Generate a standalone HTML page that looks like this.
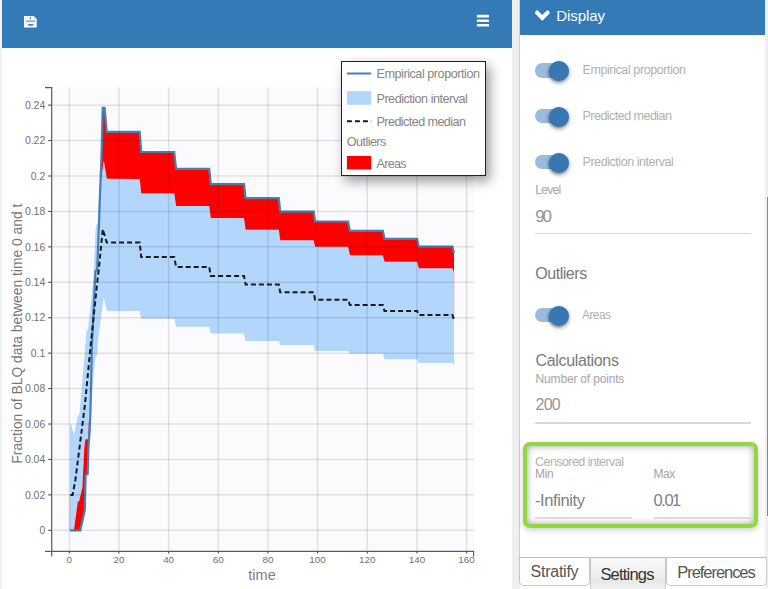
<!DOCTYPE html>
<html><head><meta charset="utf-8"><style>
html,body{margin:0;padding:0;}
body{width:768px;height:589px;overflow:hidden;background:#efefef;position:relative;font-family:"Liberation Sans",sans-serif;}
.t{position:absolute;white-space:nowrap;line-height:1;}
.lp{position:absolute;left:2px;top:0;width:510px;height:589px;background:#fff;}
.hdr{position:absolute;left:2px;top:0;width:510px;height:47.5px;background:#337ab7;}
.chart{position:absolute;left:0;top:0;}
.legend{position:absolute;left:341px;top:61px;width:145px;height:115px;box-sizing:border-box;border:1px solid #222;background:#fff;box-shadow:4px 5px 11px rgba(0,0,0,0.4);}
.rp{position:absolute;left:519px;top:0;width:246px;height:557px;background:#fff;border-left:1px solid #cfcfcf;box-sizing:border-box;}
.rhdr{position:absolute;left:520px;top:0;width:245px;height:34.8px;background:#337ab7;}
.track{position:absolute;left:534.7px;width:34px;height:14.4px;border-radius:7.2px;background:#99bcdd;}
.knob{position:absolute;left:549.2px;width:20px;height:20px;border-radius:50%;background:#3677b4;box-shadow:0 2px 4px rgba(0,0,0,0.42), -1px 1px 2px rgba(0,0,0,0.2);}
.ul{position:absolute;height:1.6px;background:#dadada;}
.green{position:absolute;left:523.3px;top:442.1px;width:234.4px;height:85.5px;box-sizing:border-box;border:4.8px solid #92d640;border-radius:7px;box-shadow:inset 0 0 7px rgba(0,0,0,0.38), 0 2px 6px rgba(0,0,0,0.2);}
.scroll{position:absolute;left:765px;top:0;width:3px;height:589px;background:#efefef;}
.thumb{position:absolute;left:766.5px;top:197px;width:1.5px;height:318.5px;background:#8a8a8a;}
.bborder{position:absolute;left:519px;top:557px;width:246.5px;height:1px;background:#babec2;}
.tab{position:absolute;top:558px;box-sizing:border-box;border:1px solid #c8c8c8;border-top:none;border-radius:0 0 5px 5px;background:#fff;}
</style></head><body>
<div class="lp"></div>
<div class="hdr"></div>
<svg style="position:absolute;left:0;top:0" width="50" height="40" viewBox="0 0 50 40">
<path d="M24,15.9 H33.6 L36.7,19 V27.4 H24 Z" fill="#fff"/>
<rect x="25.4" y="17.3" width="9.9" height="8.7" fill="#d6e3f1"/>
<rect x="26.4" y="17.3" width="7.6" height="3.3" fill="#f4f8fc"/>
<rect x="26.3" y="20.6" width="8.7" height="1.2" fill="#6f9fcd"/>
<rect x="29.8" y="16.9" width="1.2" height="2.3" fill="#5f93c6"/>
<rect x="25.6" y="22.2" width="9.4" height="3.8" fill="#f4f8fc"/>
<rect x="28.1" y="23.9" width="5.3" height="1.9" rx="0.8" fill="#3f80bd"/>
</svg>
<svg style="position:absolute;left:476px;top:14px" width="14" height="14" viewBox="0 0 14 14">
<rect x="0.8" y="0.85" width="12.3" height="2.6" rx="0.9" fill="#fff"/>
<rect x="0.8" y="5.45" width="12.3" height="2.5" rx="0.9" fill="#fff"/>
<rect x="0.8" y="9.95" width="12.3" height="2.6" rx="0.9" fill="#fff"/>
</svg>
<svg class="chart" width="512" height="589" viewBox="0 0 512 589">
<rect x="52.2" y="87.6" width="421.4" height="463.6" fill="#fbfbfe"/>
<polygon points="69.6,530.3 70.0,425.4 71.4,424.5 73.8,435.5 77.6,416.5 79.5,413.5 85.8,340.0 86.4,331.0 88.0,329.0 93.3,280.0 95.6,230.0 96.5,224.0 97.7,224.0 99.0,193.5 103.8,160.9 106.9,178.8 139.7,179.1 141.2,193.2 174.2,193.2 176.1,205.9 209.2,205.9 210.8,218.1 244.0,218.1 245.6,229.7 278.8,229.7 280.2,240.3 313.6,240.3 315.1,246.8 348.1,246.8 349.9,255.3 382.8,255.3 384.5,261.8 417.1,261.8 418.8,268.2 452.4,268.2 454.0,272.7 454.0,365.7 454.0,365.7 452.4,362.9 418.8,362.9 417.1,359.3 384.5,359.3 382.8,353.8 349.9,353.8 348.1,351.0 315.1,351.0 313.6,344.9 280.2,344.9 278.8,341.1 245.6,341.1 244.0,333.4 210.8,333.4 209.2,326.8 176.1,326.8 174.2,318.8 141.2,318.8 139.7,310.9 106.9,310.9 103.7,297.6 98.0,340.0 97.2,355.0 95.5,357.0 94.0,370.0 91.0,405.0 88.8,421.0 88.1,439.2 85.4,439.2 84.3,448.0 82.3,488.0 79.1,501.2 77.8,501.4 73.9,530.3" fill="#b2d6fc"/>
<polygon points="99.6,193.0 101.7,150.0 102.7,107.8 104.6,107.8 106.7,131.8 139.7,131.8 141.2,152.0 174.2,152.0 176.1,168.8 209.2,168.8 210.8,184.2 244.0,184.2 245.6,198.2 278.8,198.2 280.2,211.7 313.6,211.7 315.1,221.5 348.1,221.5 349.9,230.9 382.8,230.9 384.5,238.8 417.1,238.8 418.8,246.7 452.4,246.7 454.0,252.9 454.0,272.7 454.0,272.7 452.4,268.2 418.8,268.2 417.1,261.8 384.5,261.8 382.8,255.3 349.9,255.3 348.1,246.8 315.1,246.8 313.6,240.3 280.2,240.3 278.8,229.7 245.6,229.7 244.0,218.1 210.8,218.1 209.2,205.9 176.1,205.9 174.2,193.2 141.2,193.2 139.7,179.1 106.9,178.8 103.8,160.9 99.0,193.5" fill="#ff0000"/>
<polygon points="73.9,530.3 77.8,501.4 79.1,501.2 82.3,488.0 84.3,448.0 85.4,439.2 88.1,439.2 88.8,421.0 89.9,430.0 88.6,448.0 87.9,474.0 85.8,475.0 85.5,488.0 85.0,510.0 80.3,530.3" fill="#ff0000"/>
<line x1="454.2" y1="272" x2="454.2" y2="318" stroke="rgba(255,80,80,0.3)" stroke-width="0.8"/>
<line x1="69.9" y1="494" x2="69.9" y2="530" stroke="rgba(255,80,80,0.3)" stroke-width="0.8"/>
<polyline points="70.1,530.3 80.3,530.3 84.8,510.0 85.3,488.0 85.6,475.0 87.7,474.0 88.4,448.0 89.7,430.0 90.5,410.0 91.9,345.0 92.2,340.0 95.0,280.0 95.5,271.0 97.2,270.0 99.1,220.0 101.7,150.0 102.7,107.8 104.6,107.8 106.7,131.8 139.7,131.8 141.2,152.0 174.2,152.0 176.1,168.8 209.2,168.8 210.8,184.2 244.0,184.2 245.6,198.2 278.8,198.2 280.2,211.7 313.6,211.7 315.1,221.5 348.1,221.5 349.9,230.9 382.8,230.9 384.5,238.8 417.1,238.8 418.8,246.7 452.4,246.7 454.0,252.9" fill="none" stroke="#4580b5" stroke-width="2.2" stroke-linejoin="miter"/>
<polyline points="70.4,494.9 72.6,494.9 75.4,480.0 84.9,405.0 91.2,340.0 97.5,280.0 98.5,272.0 102.8,229.1 106.7,242.4 139.7,242.4 141.2,257.1 174.2,257.1 176.1,266.9 209.2,266.9 210.8,276.0 244.0,276.0 245.6,284.6 278.8,284.6 280.2,292.2 313.6,292.2 315.1,299.7 348.1,299.7 349.9,305.0 382.8,305.0 384.5,311.0 417.1,311.0 418.8,315.0 452.4,315.0 454.0,319.7" fill="none" stroke="#1a1a1a" stroke-width="2" stroke-dasharray="5,3"/>
<g stroke="rgba(0,0,0,0.1)" stroke-width="1.5"><line x1="52.2" y1="530.30" x2="473.6" y2="530.30"/><line x1="52.2" y1="494.87" x2="473.6" y2="494.87"/><line x1="52.2" y1="459.44" x2="473.6" y2="459.44"/><line x1="52.2" y1="424.01" x2="473.6" y2="424.01"/><line x1="52.2" y1="388.58" x2="473.6" y2="388.58"/><line x1="52.2" y1="353.15" x2="473.6" y2="353.15"/><line x1="52.2" y1="317.72" x2="473.6" y2="317.72"/><line x1="52.2" y1="282.29" x2="473.6" y2="282.29"/><line x1="52.2" y1="246.86" x2="473.6" y2="246.86"/><line x1="52.2" y1="211.43" x2="473.6" y2="211.43"/><line x1="52.2" y1="176.00" x2="473.6" y2="176.00"/><line x1="52.2" y1="140.57" x2="473.6" y2="140.57"/><line x1="52.2" y1="105.14" x2="473.6" y2="105.14"/><line x1="69.30" y1="87.6" x2="69.30" y2="551"/><line x1="118.96" y1="87.6" x2="118.96" y2="551"/><line x1="168.62" y1="87.6" x2="168.62" y2="551"/><line x1="218.28" y1="87.6" x2="218.28" y2="551"/><line x1="267.94" y1="87.6" x2="267.94" y2="551"/><line x1="317.60" y1="87.6" x2="317.60" y2="551"/><line x1="367.26" y1="87.6" x2="367.26" y2="551"/><line x1="416.92" y1="87.6" x2="416.92" y2="551"/><line x1="466.58" y1="87.6" x2="466.58" y2="551"/></g>
<g stroke="#5a5a5a" stroke-width="1.2" fill="none">
<path d="M45,87.6 H51.7 V551.4 H473.6 V556.4"/>
<path d="M45,551.4 H51.7 V556.4"/>
<line x1="48.2" y1="530.30" x2="51.7" y2="530.30"/><line x1="48.2" y1="494.87" x2="51.7" y2="494.87"/><line x1="48.2" y1="459.44" x2="51.7" y2="459.44"/><line x1="48.2" y1="424.01" x2="51.7" y2="424.01"/><line x1="48.2" y1="388.58" x2="51.7" y2="388.58"/><line x1="48.2" y1="353.15" x2="51.7" y2="353.15"/><line x1="48.2" y1="317.72" x2="51.7" y2="317.72"/><line x1="48.2" y1="282.29" x2="51.7" y2="282.29"/><line x1="48.2" y1="246.86" x2="51.7" y2="246.86"/><line x1="48.2" y1="211.43" x2="51.7" y2="211.43"/><line x1="48.2" y1="176.00" x2="51.7" y2="176.00"/><line x1="48.2" y1="140.57" x2="51.7" y2="140.57"/><line x1="48.2" y1="105.14" x2="51.7" y2="105.14"/><line x1="69.30" y1="551.4" x2="69.30" y2="553.6"/><line x1="118.96" y1="551.4" x2="118.96" y2="553.6"/><line x1="168.62" y1="551.4" x2="168.62" y2="553.6"/><line x1="218.28" y1="551.4" x2="218.28" y2="553.6"/><line x1="267.94" y1="551.4" x2="267.94" y2="553.6"/><line x1="317.60" y1="551.4" x2="317.60" y2="553.6"/><line x1="367.26" y1="551.4" x2="367.26" y2="553.6"/><line x1="416.92" y1="551.4" x2="416.92" y2="553.6"/><line x1="466.58" y1="551.4" x2="466.58" y2="553.6"/>
</g>
<g font-family="Liberation Sans" font-size="10.4" fill="#707070"><text x="45.2" y="534.00" text-anchor="end">0</text><text x="45.2" y="498.57" text-anchor="end">0.02</text><text x="45.2" y="463.14" text-anchor="end">0.04</text><text x="45.2" y="427.71" text-anchor="end">0.06</text><text x="45.2" y="392.28" text-anchor="end">0.08</text><text x="45.2" y="356.85" text-anchor="end">0.1</text><text x="45.2" y="321.42" text-anchor="end">0.12</text><text x="45.2" y="285.99" text-anchor="end">0.14</text><text x="45.2" y="250.56" text-anchor="end">0.16</text><text x="45.2" y="215.13" text-anchor="end">0.18</text><text x="45.2" y="179.70" text-anchor="end">0.2</text><text x="45.2" y="144.27" text-anchor="end">0.22</text><text x="45.2" y="108.84" text-anchor="end">0.24</text></g>
<g font-family="Liberation Sans" font-size="9.9" fill="#707070"><text x="69.30" y="563.0" text-anchor="middle">0</text><text x="118.96" y="563.0" text-anchor="middle">20</text><text x="168.62" y="563.0" text-anchor="middle">40</text><text x="218.28" y="563.0" text-anchor="middle">60</text><text x="267.94" y="563.0" text-anchor="middle">80</text><text x="317.60" y="563.0" text-anchor="middle">100</text><text x="367.26" y="563.0" text-anchor="middle">120</text><text x="416.92" y="563.0" text-anchor="middle">140</text><text x="466.58" y="563.0" text-anchor="middle">160</text></g>
<text x="262" y="580" font-family="Liberation Sans" font-size="14.5" fill="#808080" text-anchor="middle">time</text>
<text transform="translate(21.9,333.7) rotate(-90) scale(0.893,1)" font-family="Liberation Sans" font-size="15.5" fill="#777" text-anchor="middle">Fraction of BLQ data between time 0 and t</text>
</svg>
<div class="legend"></div>
<svg style="position:absolute;left:340px;top:60px" width="40" height="120" viewBox="340 60 40 120">
<line x1="346.9" y1="73.5" x2="371.2" y2="73.5" stroke="#4580b5" stroke-width="2"/>
<rect x="346.9" y="91.1" width="24.3" height="13.7" fill="#b2d6fc"/>
<line x1="346.9" y1="121.2" x2="371.2" y2="121.2" stroke="#1a1a1a" stroke-width="2" stroke-dasharray="5,3"/>
<rect x="346.9" y="156.0" width="24.3" height="13.4" fill="#ff0000"/>
</svg>
<div class="rp"></div>
<div class="rhdr"></div>
<svg style="position:absolute;left:530px;top:5px" width="24" height="20" viewBox="530 5 24 20">
<path d="M537.7,10.5 L542.3,15.1 L546.9,10.5 Q547.6,10 548.3,10.6 L549.5,11.9 Q550.1,12.8 549.5,13.6 L542.9,20.3 Q542.3,20.9 541.7,20.3 L535.1,13.6 Q534.5,12.8 535.1,11.9 L536.3,10.6 Q537,10 537.7,10.5 Z" fill="#fff"/>
</svg>
<div class="track" style="top:63.2px"></div><div class="knob" style="top:61.0px"></div>
<div class="track" style="top:108.8px"></div><div class="knob" style="top:106.6px"></div>
<div class="track" style="top:155.1px"></div><div class="knob" style="top:152.9px"></div>
<div class="track" style="top:308.0px"></div><div class="knob" style="top:305.8px"></div>

<div class="ul" style="left:535px;top:232.6px;width:215.5px"></div>
<div class="ul" style="left:535px;top:422.2px;width:215.5px"></div>
<div class="green"></div>
<div class="ul" style="left:535px;top:517.2px;width:97px"></div>
<div class="ul" style="left:653.6px;top:517.2px;width:97px"></div>
<div class="scroll"></div>
<div class="thumb"></div>
<div style="position:absolute;left:520px;top:557px;width:245px;height:32px;background:#fff"></div>
<div class="tab" style="left:519px;width:71px;height:27.5px"></div>
<div class="tab" style="left:590px;width:75.8px;height:33px;background:linear-gradient(#f7f7f7,#f1f1f1 45%,#e7e7e7 72%,#f4f4f4)"></div>
<div class="tab" style="left:666px;width:100.5px;height:27.5px"></div>
<div class="bborder"></div>
<div class="t" style="left:376.50px;top:68.13px;font-size:12.6px;color:#858585;letter-spacing:-0.450px;">Empirical proportion</div>
<div class="t" style="left:376.50px;top:92.63px;font-size:12.6px;color:#858585;letter-spacing:-0.486px;">Prediction interval</div>
<div class="t" style="left:376.50px;top:116.03px;font-size:12.6px;color:#858585;letter-spacing:-0.570px;">Predicted median</div>
<div class="t" style="left:346.80px;top:136.23px;font-size:12.6px;color:#858585;letter-spacing:-0.559px;">Outliers</div>
<div class="t" style="left:376.50px;top:157.63px;font-size:12.6px;color:#858585;letter-spacing:-0.729px;">Areas</div>
<div class="t" style="left:556.30px;top:8.40px;font-size:15px;color:#ffffff;letter-spacing:-0.072px;">Display</div>
<div class="t" style="left:582.50px;top:63.62px;font-size:12.5px;color:#b0b0b0;letter-spacing:-0.403px;">Empirical proportion</div>
<div class="t" style="left:582.50px;top:109.62px;font-size:12.5px;color:#b0b0b0;letter-spacing:-0.519px;">Predicted median</div>
<div class="t" style="left:582.50px;top:155.72px;font-size:12.5px;color:#b0b0b0;letter-spacing:-0.442px;">Prediction interval</div>
<div class="t" style="left:535.20px;top:183.84px;font-size:12.0px;color:#a5a5a5;letter-spacing:-0.672px;">Level</div>
<div class="t" style="left:535.20px;top:207.51px;font-size:17.0px;color:#959595;letter-spacing:-2.209px;">90</div>
<div class="t" style="left:535.20px;top:265.66px;font-size:16.0px;color:#7a7a7a;letter-spacing:-0.446px;">Outliers</div>
<div class="t" style="left:582.00px;top:308.59px;font-size:12.0px;color:#b0b0b0;letter-spacing:-0.587px;">Areas</div>
<div class="t" style="left:535.60px;top:352.96px;font-size:16.0px;color:#7a7a7a;letter-spacing:-0.351px;">Calculations</div>
<div class="t" style="left:535.60px;top:373.14px;font-size:12.0px;color:#a5a5a5;letter-spacing:-0.178px;">Number of points</div>
<div class="t" style="left:535.60px;top:396.76px;font-size:16.0px;color:#959595;letter-spacing:-0.848px;">200</div>
<div class="t" style="left:535.00px;top:456.03px;font-size:12.6px;color:#b2b2b2;letter-spacing:-0.609px;">Censored interval</div>
<div class="t" style="left:535.00px;top:468.14px;font-size:12.0px;color:#a5a5a5;letter-spacing:-0.293px;">Min</div>
<div class="t" style="left:653.60px;top:468.14px;font-size:12.0px;color:#a5a5a5;letter-spacing:-0.485px;">Max</div>
<div class="t" style="left:535.00px;top:491.83px;font-size:16.5px;color:#808080;letter-spacing:-0.398px;">-Infinity</div>
<div class="t" style="left:653.60px;top:491.63px;font-size:16.5px;color:#808080;letter-spacing:-1.471px;">0.01</div>
<div class="t" style="left:530.60px;top:564.36px;font-size:16.0px;color:#555555;letter-spacing:-0.256px;">Stratify</div>
<div class="t" style="left:600.40px;top:565.63px;font-size:16.5px;color:#333333;letter-spacing:-0.803px;">Settings</div>
<div class="t" style="left:677.30px;top:563.63px;font-size:16.5px;color:#555555;letter-spacing:-1.056px;">Preferences</div>

</body></html>
